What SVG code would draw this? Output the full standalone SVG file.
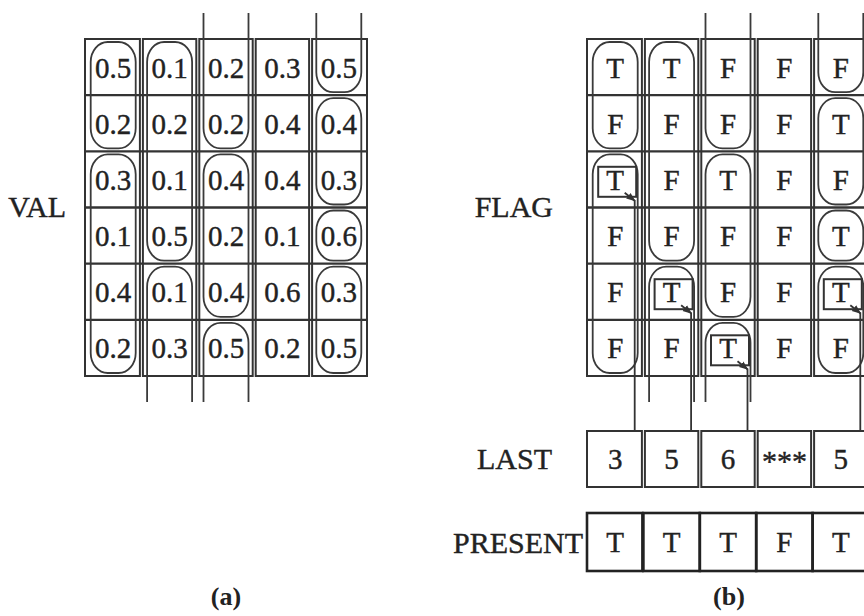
<svg xmlns="http://www.w3.org/2000/svg" width="864" height="616" viewBox="0 0 864 616">
<defs>
<style>
.box{fill:none;stroke:#333;stroke-width:2}
.hl{stroke:#333;stroke-width:2.4}
.cap{fill:none;stroke:#3a3a3a;stroke-width:1.8}
.pbox{fill:none;stroke:#222;stroke-width:2.6}
.t{font-family:"Liberation Serif","Times New Roman",serif;font-size:29px;fill:#222;stroke:#222;stroke-width:0.4;text-anchor:middle}
.lbl{font-family:"Liberation Serif","Times New Roman",serif;font-size:30px;fill:#222;stroke:#222;stroke-width:0.4;text-anchor:end}
.cap-t{font-family:"Liberation Serif","Times New Roman",serif;font-size:26px;font-weight:bold;fill:#222;text-anchor:middle}
.conn{fill:none;stroke:#333;stroke-width:1.8}
.tb{fill:none;stroke:#333;stroke-width:2}
</style>
<marker id="ah" viewBox="0 0 10 10" refX="9" refY="5" markerWidth="9" markerHeight="9" markerUnits="userSpaceOnUse" orient="auto">
<path d="M0,1 L10,5 L0,9 z" fill="#333"/>
</marker>
</defs>
<rect width="864" height="616" fill="#fff"/>

<!-- Panel (a) -->
<g id="val-label"><text class="lbl" x="66" y="217">VAL</text></g>
<g id="val-grid">
<rect class="box" x="85" y="39" width="54.9" height="337"/>
<rect class="box" x="142.9" y="39" width="53.4" height="337"/>
<rect class="box" x="199.3" y="39" width="53.4" height="337"/>
<rect class="box" x="255.7" y="39" width="53.4" height="337"/>
<rect class="box" x="312.1" y="39" width="54.9" height="337"/>
<line class="hl" x1="85" y1="95.17" x2="367" y2="95.17"/>
<line class="hl" x1="85" y1="151.33" x2="367" y2="151.33"/>
<line class="hl" x1="85" y1="207.5" x2="367" y2="207.5"/>
<line class="hl" x1="85" y1="263.67" x2="367" y2="263.67"/>
<line class="hl" x1="85" y1="319.83" x2="367" y2="319.83"/>
</g>
<g id="val-segments">
<rect class="cap" x="90.7" y="42" width="45" height="106.33" rx="17" ry="20"/>
<rect class="cap" x="90.7" y="154.33" width="45" height="218.67" rx="17" ry="20"/>
<rect class="cap" x="147.1" y="42" width="45" height="218.67" rx="17" ry="20"/>
<path class="cap" d="M147.1,402 V286.67 A17,20 0 0 1 164.1,266.67 H175.1 A17,20 0 0 1 192.1,286.67 V402"/>
<path class="cap" d="M203.5,13 V128.33 A17,20 0 0 0 220.5,148.33 H231.5 A17,20 0 0 0 248.5,128.33 V13"/>
<rect class="cap" x="203.5" y="154.33" width="45" height="162.5" rx="17" ry="20"/>
<path class="cap" d="M203.5,402 V342.83 A17,20 0 0 1 220.5,322.83 H231.5 A17,20 0 0 1 248.5,342.83 V402"/>
<path class="cap" d="M316.3,13 V72.17 A17,20 0 0 0 333.3,92.17 H344.3 A17,20 0 0 0 361.3,72.17 V13"/>
<rect class="cap" x="316.3" y="98.17" width="45" height="106.33" rx="17" ry="20"/>
<rect class="cap" x="316.3" y="210.5" width="45" height="50.17" rx="17" ry="20"/>
<rect class="cap" x="316.3" y="266.67" width="45" height="106.33" rx="17" ry="20"/>
</g>
<g id="val-values">
<text class="t" x="113.2" y="77.5">0.5</text><text class="t" x="169.6" y="77.5">0.1</text><text class="t" x="226" y="77.5">0.2</text><text class="t" x="282.4" y="77.5">0.3</text><text class="t" x="338.8" y="77.5">0.5</text>
<text class="t" x="113.2" y="133.5">0.2</text><text class="t" x="169.6" y="133.5">0.2</text><text class="t" x="226" y="133.5">0.2</text><text class="t" x="282.4" y="133.5">0.4</text><text class="t" x="338.8" y="133.5">0.4</text>
<text class="t" x="113.2" y="189.8">0.3</text><text class="t" x="169.6" y="189.8">0.1</text><text class="t" x="226" y="189.8">0.4</text><text class="t" x="282.4" y="189.8">0.4</text><text class="t" x="338.8" y="189.8">0.3</text>
<text class="t" x="113.2" y="246">0.1</text><text class="t" x="169.6" y="246">0.5</text><text class="t" x="226" y="246">0.2</text><text class="t" x="282.4" y="246">0.1</text><text class="t" x="338.8" y="246">0.6</text>
<text class="t" x="113.2" y="302.1">0.4</text><text class="t" x="169.6" y="302.1">0.1</text><text class="t" x="226" y="302.1">0.4</text><text class="t" x="282.4" y="302.1">0.6</text><text class="t" x="338.8" y="302.1">0.3</text>
<text class="t" x="113.2" y="358.3">0.2</text><text class="t" x="169.6" y="358.3">0.3</text><text class="t" x="226" y="358.3">0.5</text><text class="t" x="282.4" y="358.3">0.2</text><text class="t" x="338.8" y="358.3">0.5</text>
</g>
<g id="caption-a"><text class="cap-t" x="226" y="605">(a)</text></g>

<!-- Panel (b) -->
<g id="flag-label"><text class="lbl" x="553" y="217">FLAG</text></g>
<g id="flag-grid">
<rect class="box" x="587" y="39" width="54.9" height="337"/>
<rect class="box" x="644.9" y="39" width="53.4" height="337"/>
<rect class="box" x="701.3" y="39" width="53.4" height="337"/>
<rect class="box" x="757.7" y="39" width="53.4" height="337"/>
<rect class="box" x="814.1" y="39" width="54.9" height="337"/>
<line class="hl" x1="587" y1="95.17" x2="869" y2="95.17"/>
<line class="hl" x1="587" y1="151.33" x2="869" y2="151.33"/>
<line class="hl" x1="587" y1="207.5" x2="869" y2="207.5"/>
<line class="hl" x1="587" y1="263.67" x2="869" y2="263.67"/>
<line class="hl" x1="587" y1="319.83" x2="869" y2="319.83"/>
</g>
<g id="flag-segments">
<rect class="cap" x="592.7" y="42" width="45" height="106.33" rx="17" ry="20"/>
<rect class="cap" x="592.7" y="154.33" width="45" height="218.67" rx="17" ry="20"/>
<rect class="cap" x="649.1" y="42" width="45" height="218.67" rx="17" ry="20"/>
<path class="cap" d="M649.1,402 V286.67 A17,20 0 0 1 666.1,266.67 H677.1 A17,20 0 0 1 694.1,286.67 V402"/>
<path class="cap" d="M705.5,13 V128.33 A17,20 0 0 0 722.5,148.33 H733.5 A17,20 0 0 0 750.5,128.33 V13"/>
<rect class="cap" x="705.5" y="154.33" width="45" height="162.5" rx="17" ry="20"/>
<path class="cap" d="M705.5,402 V342.83 A17,20 0 0 1 722.5,322.83 H733.5 A17,20 0 0 1 750.5,342.83 V402"/>
<path class="cap" d="M818.3,13 V72.17 A17,20 0 0 0 835.3,92.17 H846.3 A17,20 0 0 0 863.3,72.17 V13"/>
<rect class="cap" x="818.3" y="98.17" width="45" height="106.33" rx="17" ry="20"/>
<rect class="cap" x="818.3" y="210.5" width="45" height="50.17" rx="17" ry="20"/>
<rect class="cap" x="818.3" y="266.67" width="45" height="106.33" rx="17" ry="20"/>
</g>
<g id="flag-last-marks">
<rect class="tb" x="598.2" y="166.8" width="38" height="30"/>
<rect class="tb" x="654.6" y="279.2" width="38" height="30"/>
<rect class="tb" x="711" y="335.3" width="38" height="30"/>
<rect class="tb" x="823.8" y="279.2" width="38" height="30"/>
</g>
<g id="flag-values">
<text class="t" x="615.2" y="77.5">T</text><text class="t" x="671.6" y="77.5">T</text><text class="t" x="728" y="77.5">F</text><text class="t" x="784.4" y="77.5">F</text><text class="t" x="840.8" y="77.5">F</text>
<text class="t" x="615.2" y="133.5">F</text><text class="t" x="671.6" y="133.5">F</text><text class="t" x="728" y="133.5">F</text><text class="t" x="784.4" y="133.5">F</text><text class="t" x="840.8" y="133.5">T</text>
<text class="t" x="615.2" y="189.8">T</text><text class="t" x="671.6" y="189.8">F</text><text class="t" x="728" y="189.8">T</text><text class="t" x="784.4" y="189.8">F</text><text class="t" x="840.8" y="189.8">F</text>
<text class="t" x="615.2" y="246">F</text><text class="t" x="671.6" y="246">F</text><text class="t" x="728" y="246">F</text><text class="t" x="784.4" y="246">F</text><text class="t" x="840.8" y="246">T</text>
<text class="t" x="615.2" y="302.1">F</text><text class="t" x="671.6" y="302.1">T</text><text class="t" x="728" y="302.1">F</text><text class="t" x="784.4" y="302.1">F</text><text class="t" x="840.8" y="302.1">T</text>
<text class="t" x="615.2" y="358.3">F</text><text class="t" x="671.6" y="358.3">F</text><text class="t" x="728" y="358.3">T</text><text class="t" x="784.4" y="358.3">F</text><text class="t" x="840.8" y="358.3">F</text>
</g>

<g id="connectors">
<line class="conn" x1="624.7" y1="192.8" x2="634.7" y2="200.8" marker-end="url(#ah)"/>
<line class="conn" x1="634.7" y1="200" x2="634.7" y2="431"/>
<line class="conn" x1="681.1" y1="305.2" x2="691.1" y2="313.2" marker-end="url(#ah)"/>
<line class="conn" x1="691.1" y1="312.4" x2="691.1" y2="431"/>
<line class="conn" x1="737.5" y1="361.3" x2="747.5" y2="369.3" marker-end="url(#ah)"/>
<line class="conn" x1="747.5" y1="368.5" x2="747.5" y2="431"/>
<line class="conn" x1="850.3" y1="305.2" x2="860.3" y2="313.2" marker-end="url(#ah)"/>
<line class="conn" x1="860.3" y1="312.4" x2="860.3" y2="431"/>
</g>

<g id="last-label"><text class="lbl" x="552" y="469">LAST</text></g>
<g id="last-row">
<rect class="box" x="587" y="431" width="54.9" height="56"/>
<rect class="box" x="644.9" y="431" width="53.4" height="56"/>
<rect class="box" x="701.3" y="431" width="53.4" height="56"/>
<rect class="box" x="757.7" y="431" width="53.4" height="56"/>
<rect class="box" x="814.1" y="431" width="54.9" height="56"/>
<text class="t" x="615.2" y="469">3</text>
<text class="t" x="671.6" y="469">5</text>
<text class="t" x="728" y="469">6</text>
<text class="t" x="784.4" y="471" style="font-size:30px">***</text>
<text class="t" x="840.8" y="469">5</text>
</g>

<g id="present-label"><text class="lbl" x="583" y="553">PRESENT</text></g>
<g id="present-row">
<rect class="pbox" x="587" y="513" width="55.4" height="58"/>
<rect class="pbox" x="643.4" y="513" width="56.4" height="58"/>
<rect class="pbox" x="699.8" y="513" width="56.4" height="58"/>
<rect class="pbox" x="756.2" y="513" width="56.4" height="58"/>
<rect class="pbox" x="812.6" y="513" width="56.4" height="58"/>
<text class="t" x="615.2" y="552">T</text>
<text class="t" x="671.6" y="552">T</text>
<text class="t" x="728" y="552">T</text>
<text class="t" x="784.4" y="552">F</text>
<text class="t" x="840.8" y="552">T</text>
</g>
<g id="caption-b"><text class="cap-t" x="729" y="605">(b)</text></g>
</svg>
